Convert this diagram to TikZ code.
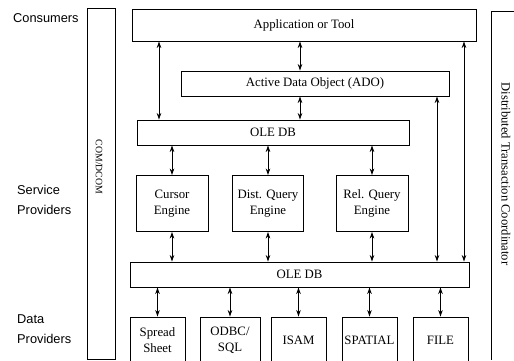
\documentclass[tikz,border=0pt]{standalone}
\usepackage{fontspec}
\setmainfont{Liberation Serif}
\newfontfamily\sidefont{Liberation Sans}
\usetikzlibrary{arrows.meta}

\begin{document}
\begin{tikzpicture}[x=1pt,y=-1pt,
    box/.style={draw,line width=0.9pt,inner sep=0pt,align=center,
      font=\fontsize{12.8}{16}\selectfont},
    arr/.style={{Stealth[length=6.5pt,width=4.5pt]}-{Stealth[length=6.5pt,width=4.5pt]},line width=0.9pt},
    side/.style={anchor=west,inner sep=0pt,align=left,
      font=\sidefont\fontsize{12.8}{19.5}\selectfont}]
    \clip (0,0) rectangle (514,360);

    % side labels
    \node[side] (cons) at (13,18) {Consumers};
    \node[side] (serv) at (17,200) {Service\\Providers};
    \node[side] (data) at (17,329) {Data\\Providers};

    % bars
    \draw[line width=0.9pt] (87,8) rectangle (115,359);
    \node[rotate=-90,inner sep=0pt,font=\fontsize{9.8}{11}\selectfont] (com) at (99,167) {COM/DCOM};
    \draw[line width=0.9pt] (514,11) -- (491,11) -- (491,360);
    \node[rotate=-90,inner sep=0pt,font=\fontsize{12.6}{14}\selectfont] (dtc) at (506,174) {Distributed Transaction Coordinator};

    % layers
    \node[box,minimum width=344pt,minimum height=32pt] (app) at (304,25) {Application or Tool};
    \node[box,minimum width=268pt,minimum height=25pt] (ado) at (315,83.5) {Active Data Object (ADO)};
    \node[box,minimum width=272pt,minimum height=25pt] (oleup) at (273,132.5) {OLE DB};
    \node[box,minimum width=339pt,minimum height=25pt] (oledn) at (299.5,274.5) {OLE DB};

    % engines
    \node[box,minimum width=72pt,minimum height=56pt] (cursor) at (172,203.5) {Cursor\\Engine};
    \node[box,minimum width=71pt,minimum height=56pt] (dist) at (268,203.5) {Dist. Query\\Engine};
    \node[box,minimum width=72pt,minimum height=56pt] (rel) at (372,203.5) {Rel. Query\\Engine};

    % data sources
    \node[box,minimum width=55pt,minimum height=46pt] (sheet) at (157.5,340) {Spread\\Sheet};
    \node[box,minimum width=60pt,minimum height=46pt] (odbc) at (230,340) {ODBC/\\SQL};
    \node[box,minimum width=55pt,minimum height=46pt] (isam) at (298.5,340) {ISAM};
    \node[box,minimum width=55pt,minimum height=46pt] (spatial) at (369.5,340) {SPATIAL};
    \node[box,minimum width=55pt,minimum height=46pt] (file) at (440.5,340) {FILE};

    % connectors
    \draw[arr] (app.south -| 159,0) -- (oleup.north -| 159,0);
    \draw[arr] (app.south -| 300,0) -- (ado.north -| 300,0);
    \draw[arr] (ado.south -| 300,0) -- (oleup.north -| 300,0);
    \draw[arr] (app.south -| 464,0) -- (oledn.north -| 464,0);
    \draw[arr] (ado.south -| 437,0) -- (oledn.north -| 437,0);
    \foreach \e in {cursor,dist,rel} {
      \draw[arr] (oleup.south -| \e.north) -- (\e.north);
      \draw[arr] (\e.south) -- (oledn.north -| \e.south);
    }
    \foreach \d in {sheet,odbc,isam,spatial,file}
      \draw[arr] (oledn.south -| \d.north) -- (\d.north);
\end{tikzpicture}
\end{document}
